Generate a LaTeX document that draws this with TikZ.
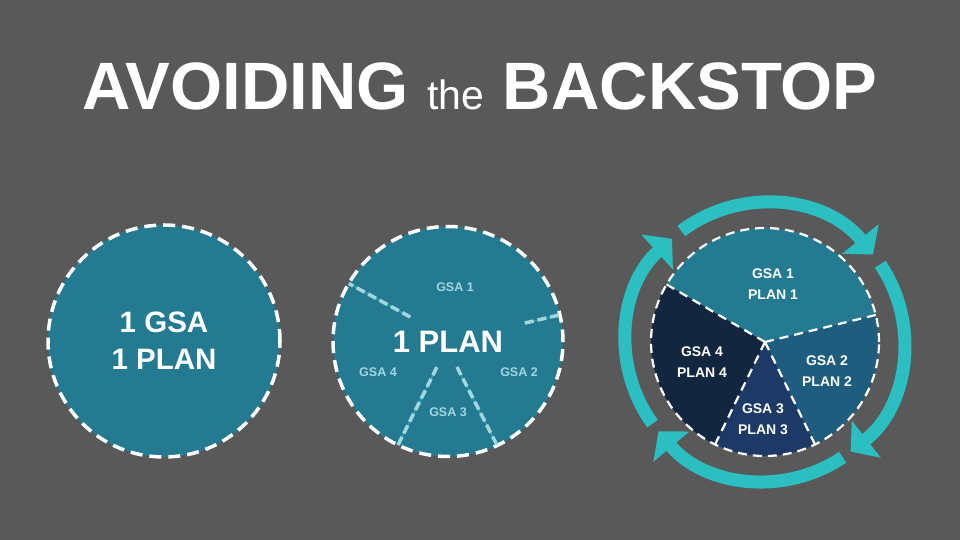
\documentclass[tikz,border=0pt]{standalone}
\usepackage{fontspec}
\setmainfont{Liberation Sans}
\usetikzlibrary{arrows.meta}

\definecolor{slate}{HTML}{595959}
\definecolor{teal1}{HTML}{237A91}
\definecolor{teal2}{HTML}{1E5D7E}
\definecolor{navy3}{HTML}{1D3A67}
\definecolor{navy4}{HTML}{12263F}
\definecolor{ringcyan}{HTML}{2CBFC1}
\definecolor{paleblue}{HTML}{A3D6E1}

\begin{document}
\begin{tikzpicture}[x=1pt, y=1pt,
    bigdisc/.style={circle, inner sep=0pt, minimum size=230pt, fill=teal1, draw=white,
        line width=3.5pt, dash pattern=on 12pt off 7pt, text=white, align=center},
    smalllabel/.style={text=paleblue, font=\fontsize{12.5}{14}\selectfont\bfseries},
    planlabel/.style={text=white, align=center, font=\fontsize{14}{20.5}\selectfont\bfseries},
    piedash/.style={white, line width=2.2pt, dash pattern=on 9pt off 6pt},
    ringarrow/.style={ringcyan, line width=13pt, -{Triangle[width=46pt, length=20pt]}},
    midline/.style={ringcyan, line width=0.8pt},
    middash/.style={paleblue, line width=3.5pt, dash pattern=on 9pt off 4pt}]

    % Background
    \fill[slate] (0,0) rectangle (960,540);

    % Title
    \node[anchor=base, text=white, inner sep=0pt, font=\fontsize{67}{67}\selectfont\bfseries]
        (title) at (480,430) {AVOIDING {\fontsize{41}{41}\selectfont\mdseries the} BACKSTOP};

    % LEFT PART
    \node[bigdisc, minimum size=232pt, font=\fontsize{29.5}{37}\selectfont\bfseries]
        (onegsa) at (164,199) {1 GSA\\1 PLAN};

    % MIDDLE PART
    \node[bigdisc, font=\fontsize{31}{31}\selectfont\bfseries] (oneplan) at (448,198.5) {1 PLAN};

    % Dividers (pale dashes over a thin cyan line)
    \foreach \ai/\ri/\ao/\ro in {147/45/149.7/115, 13.5/79/13.4/114,
                                 -113.3/28/-115.8/115, -70.6/27/-64.7/114.5} {
        \draw[midline] ([shift={(\ai:\ri)}]oneplan.center) -- ([shift={(\ao:\ro)}]oneplan.center);
        \draw[middash] ([shift={(\ai:\ri)}]oneplan.center) -- ([shift={(\ao:\ro)}]oneplan.center);
    }

    \node[smalllabel] (mgsa1) at (455,253) {GSA 1};
    \node[smalllabel] (mgsa2) at (519,168) {GSA 2};
    \node[smalllabel] (mgsa3) at (448,128) {GSA 3};
    \node[smalllabel] (mgsa4) at (378,168) {GSA 4};

    % RIGHT PART
    \coordinate (pie) at (765,198);

    % Sectors
    \fill[teal1] (pie) -- ([shift={(13.7:114)}]pie) arc (13.7:149.7:114) -- cycle;
    \fill[teal2] (pie) -- ([shift={(-64:114)}]pie) arc (-64:13.7:114) -- cycle;
    \fill[navy3] (pie) -- ([shift={(-116:114)}]pie) arc (-116:-64:114) -- cycle;
    \fill[navy4] (pie) -- ([shift={(149.7:114)}]pie) arc (149.7:244:114) -- cycle;

    % Dashed borders
    \draw[piedash] (pie) circle (114);
    \foreach \a in {13.7, 149.7, -64, -116}
        \draw[piedash] (pie) -- ([shift={(\a:114)}]pie);

    % Labels
    \node[planlabel] (rgsa1) at (773,256) {GSA 1\\PLAN 1};
    \node[planlabel] (rgsa2) at (827,169) {GSA 2\\PLAN 2};
    \node[planlabel] (rgsa3) at (763,121) {GSA 3\\PLAN 3};
    \node[planlabel] (rgsa4) at (702,178) {GSA 4\\PLAN 4};

    % Cycle arrows
    \foreach \s/\e in {127/39, 34/-52, -56/-140, 216/132}
        \draw[ringarrow] ([shift={(\s:139)}]pie) arc (\s:\e:139);

\end{tikzpicture}
\end{document}
